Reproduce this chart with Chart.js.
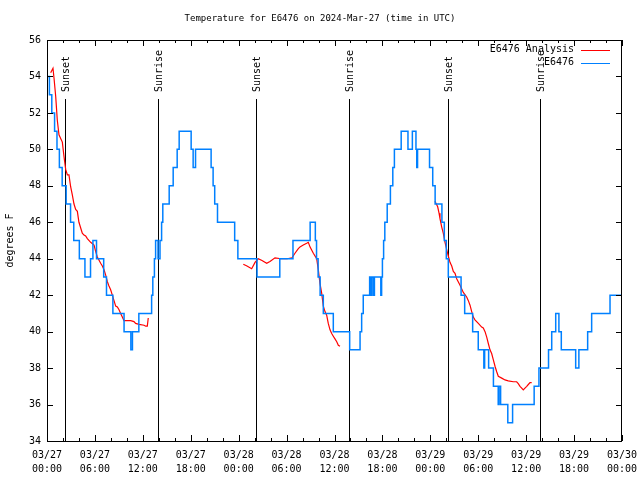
<!DOCTYPE html>
<html>
<head>
<meta charset="utf-8">
<script src="https://cdn.jsdelivr.net/npm/chart.js@4.4.1/dist/chart.umd.min.js"></script>
<style>
  html, body { margin: 0; padding: 0; background: #fff; }
</style>
</head>
<body>
<canvas id="tempChart" width="640" height="480"></canvas>
<script>
// hours since 03/27 00:00 UTC; each reading holds until the next one
const obsHours = [0, 0.3, 0.6, 0.95, 1.25, 1.55, 1.9, 2.4, 2.95, 3.35, 4.05, 4.75, 5.45, 5.75, 6.2, 7.1, 7.45, 8.25, 9.65, 10.5,
    10.7, 11.5, 13.1, 13.25, 13.45, 13.6, 13.9, 14.15, 14.35, 14.5, 15.3, 15.8, 16.3, 16.55, 18.05, 18.3, 18.6, 20.55, 20.8, 21.0,
    21.35, 23.5, 23.9, 26.3, 29.15, 30.8, 32.95, 33.6, 33.75, 33.95, 34.2, 34.6, 35.85, 37.9, 39.2, 39.4, 39.6, 40.4, 40.55, 40.65,
    40.85, 41.0, 41.8, 41.9, 42.0, 42.15, 42.3, 42.6, 43.0, 43.3, 43.5, 44.35, 45.2, 45.75, 46.2, 46.3, 46.4, 47.9, 48.3, 48.6,
    49.45, 49.75, 50.0, 50.25, 51.85, 52.3, 53.3, 54.0, 54.7, 54.8, 55.3, 55.9, 56.5, 56.6, 56.8, 57.7, 58.3, 61.0, 61.6, 62.8,
    63.2, 63.7, 64.1, 64.4, 66.2, 66.6, 67.7, 68.2, 70.5, 72];
const obsTemps = [54, 53, 52, 51, 50, 49, 48, 47, 46, 45, 44, 43, 44, 45, 44, 43, 42, 41, 40, 39,
    40, 41, 42, 43, 44, 45, 44, 45, 46, 47, 48, 49, 50, 51, 50, 49, 50, 49, 48, 47,
    46, 45, 44, 43, 44, 45, 46, 45, 44, 43, 42, 41, 40, 39, 40, 41, 42, 43, 42, 43,
    42, 43, 42, 43, 44, 45, 46, 47, 48, 49, 50, 51, 50, 51, 50, 49, 50, 49, 48, 47,
    46, 45, 44, 43, 42, 41, 40, 39, 38, 39, 38, 37, 36, 37, 36, 35, 36, 37, 38, 39,
    40, 41, 40, 39, 38, 39, 40, 41, 42, 42];

// analysis curve, three runs separated by null
const anHours = [0.46, 0.75, 0.88, 1.09, 1.29, 1.5, 1.71, 1.92, 2.13, 2.34, 2.55, 2.75, 2.96, 3.17, 3.38, 3.59, 3.8, 4.0, 4.21, 4.42,
    4.63, 4.84, 5.05, 5.47, 5.89, 6.09, 6.3, 6.72, 6.93, 7.14, 7.35, 7.55, 7.76, 7.97, 8.18, 8.39, 8.6, 8.81, 9.02, 9.22,
    9.43, 9.64, 10.06, 10.48, 10.89, 11.1, 11.52, 12.15, 12.36, 12.56, 12.68,
    18.6,
    24.58, 25.04, 25.63, 26.05, 26.46, 26.92, 27.51, 27.92, 28.55, 29.3, 30.05, 30.68, 31.05, 31.47, 31.68, 32.09, 32.52, 32.72, 32.93, 33.35,
    33.77, 33.97, 34.18, 34.4, 34.6, 34.81, 35.02, 35.22, 35.44, 35.65, 35.85, 36.06, 36.28, 36.48, 36.69,
    42.6,
    48.58, 48.92, 49.09, 49.21, 49.42, 49.62, 49.84, 50.05, 50.25, 50.46, 50.68, 50.88, 51.09, 51.3, 51.72, 52.13, 52.55, 52.76, 52.97, 53.18,
    53.38, 53.59, 54.01, 54.43, 54.63, 54.85, 55.06, 55.26, 55.47, 55.68, 55.89, 56.1, 56.31, 56.51, 56.94, 57.35, 57.76, 58.39, 58.81, 59.01,
    59.23, 59.44, 59.64, 59.85, 60.07, 60.27, 60.48, 60.69];
const anTemps = [54.2, 54.45, 53.9, 52.9, 51.6, 50.8, 50.6, 50.4, 49.6, 48.9, 48.6, 48.6, 47.95, 47.5, 47.0, 46.7, 46.6, 46.0, 45.7, 45.4,
    45.3, 45.25, 45.1, 44.9, 44.75, 44.4, 44.1, 43.75, 43.6, 43.4, 43.1, 42.75, 42.5, 42.3, 42.0, 41.7, 41.4, 41.35, 41.2, 41.0,
    40.8, 40.6, 40.6, 40.6, 40.55, 40.45, 40.4, 40.35, 40.3, 40.3, 40.75,
    null,
    43.7, 43.6, 43.45, 43.8, 44.0, 43.9, 43.75, 43.85, 44.05, 44.0, 44.0, 44.05, 44.3, 44.55, 44.65, 44.75, 44.85, 44.9, 44.65, 44.3,
    44.0, 43.4, 42.65, 42.1, 41.4, 41.1, 40.9, 40.45, 40.1, 39.9, 39.75, 39.6, 39.45, 39.25, 39.2,
    null,
    47.15, 46.85, 46.5, 46.2, 45.75, 45.4, 44.9, 44.5, 44.15, 43.8, 43.6, 43.3, 43.2, 42.9, 42.55, 42.15, 41.9, 41.7, 41.45, 41.1,
    40.8, 40.65, 40.45, 40.25, 40.2, 40.0, 39.7, 39.35, 39.0, 38.8, 38.45, 38.1, 37.8, 37.55, 37.45, 37.35, 37.3, 37.25, 37.25, 37.15,
    37.0, 36.9, 36.8, 36.9, 37.0, 37.1, 37.2, 37.2];

const eventHours = [2.2, 13.85, 26.2, 37.8, 50.2, 61.75];
const eventLabels = ['Sunset', 'Sunrise', 'Sunset', 'Sunrise', 'Sunset', 'Sunrise'];

const tickDates = ['03/27', '03/27', '03/27', '03/27', '03/28', '03/28', '03/28', '03/28', '03/29', '03/29', '03/29', '03/29', '03/30'];
const tickTimes = ['00:00', '06:00', '12:00', '18:00', '00:00', '06:00', '12:00', '18:00', '00:00', '06:00', '12:00', '18:00', '00:00'];

const seriesNames = ['E6476 Analysis', 'E6476'];
const seriesColors = ['#ff0000', '#0080ff'];
const chartTitle = 'Temperature for E6476 on 2024-Mar-27 (time in UTC)';

const monoFont = '"DejaVu Sans Mono", "Liberation Mono", monospace';

const gnuplotFrame = {
    id: 'gnuplotFrame',
    beforeDatasetsDraw(chart) {
        const { ctx, chartArea: area, scales: { x } } = chart;
        ctx.save();
        ctx.strokeStyle = '#000';
        ctx.fillStyle = '#000';
        ctx.lineWidth = 1;
        ctx.font = '10px ' + monoFont;
        eventHours.forEach((hour, i) => {
            const px = Math.round(x.getPixelForValue(hour)) + 0.5;
            ctx.beginPath();
            ctx.moveTo(px, 99);
            ctx.lineTo(px, area.bottom);
            ctx.stroke();
            ctx.save();
            ctx.translate(px + 1, 92);
            ctx.rotate(-Math.PI / 2);
            ctx.textAlign = 'left';
            ctx.textBaseline = 'middle';
            ctx.fillText(eventLabels[i], 0, 0);
            ctx.restore();
        });
        ctx.restore();
    },
    afterDraw(chart) {
        const { ctx, chartArea: area, scales: { x, y } } = chart;
        ctx.save();
        ctx.strokeStyle = '#000';
        ctx.lineWidth = 1;
        ctx.strokeRect(area.left + 0.5, area.top + 0.5, area.right - area.left - 1, area.bottom - area.top);

        ctx.beginPath();
        for (let v = 34; v <= 56; v += 2) {
            const py = Math.round(y.getPixelForValue(v)) + 0.5;
            ctx.moveTo(area.left, py); ctx.lineTo(area.left + 6, py);
            ctx.moveTo(area.right, py); ctx.lineTo(area.right - 6, py);
        }
        for (let h = 0; h <= 72; h += 2) {
            const px = Math.round(x.getPixelForValue(h)) + 0.5;
            const len = h % 6 === 0 ? 6 : 3;
            ctx.moveTo(px, area.bottom); ctx.lineTo(px, area.bottom - len);
            ctx.moveTo(px, area.top); ctx.lineTo(px, area.top + len);
        }
        ctx.stroke();

        ctx.fillStyle = '#000';
        ctx.font = '9px ' + monoFont;
        ctx.textAlign = 'center';
        ctx.textBaseline = 'middle';
        ctx.fillText(chartTitle, 320, 19);

        ctx.font = '10px ' + monoFont;
        ctx.textAlign = 'right';
        seriesNames.forEach((name, i) => {
            const ly = 49.5 + i * 13;
            ctx.fillStyle = '#000';
            ctx.fillText(name, 574, ly);
            ctx.strokeStyle = seriesColors[i];
            ctx.beginPath();
            ctx.moveTo(581, Math.round(ly) + 0.5);
            ctx.lineTo(610, Math.round(ly) + 0.5);
            ctx.stroke();
        });
        ctx.restore();
    }
};

new Chart(document.getElementById('tempChart'), {
    type: 'line',
    data: {
        datasets: [
            {
                label: seriesNames[1],
                data: obsHours.map((h, i) => ({ x: h, y: obsTemps[i] })),
                borderColor: seriesColors[1],
                borderWidth: 1.5,
                stepped: 'before',
                pointRadius: 0,
                fill: false,
            },
            {
                label: seriesNames[0],
                data: anHours.map((h, i) => ({ x: h, y: anTemps[i] })),
                borderColor: seriesColors[0],
                borderWidth: 1.2,
                pointRadius: 0,
                spanGaps: false,
                fill: false,
            },
        ],
    },
    options: {
        responsive: false,
        animation: false,
        layout: { padding: { top: 40, right: 18, left: 0, bottom: 0 } },
        plugins: { legend: { display: false }, title: { display: false }, tooltip: { enabled: false } },
        scales: {
            x: {
                type: 'linear',
                min: 0,
                max: 72,
                grid: { display: false, drawTicks: false },
                border: { display: false },
                ticks: {
                    stepSize: 6,
                    autoSkip: false,
                    maxRotation: 0,
                    padding: 7,
                    color: '#000',
                    font: { family: monoFont, size: 10, lineHeight: 1.4 },
                    callback: value => [tickDates[value / 6], tickTimes[value / 6]],
                },
                afterFit: scale => { scale.height = 39; scale.paddingLeft = 0; scale.paddingRight = 0; },
            },
            y: {
                min: 34,
                max: 56,
                grid: { display: false, drawTicks: false },
                border: { display: false },
                title: { display: true, text: 'degrees F', color: '#000', font: { family: monoFont, size: 10 }, padding: { top: 4, bottom: 0 } },
                ticks: { stepSize: 2, padding: 6, color: '#000', font: { family: monoFont, size: 10 } },
                afterFit: scale => { scale.width = 47; scale.paddingTop = 0; scale.paddingBottom = 0; },
            },
        },
    },
    plugins: [gnuplotFrame],
});
</script>
</body>
</html>
